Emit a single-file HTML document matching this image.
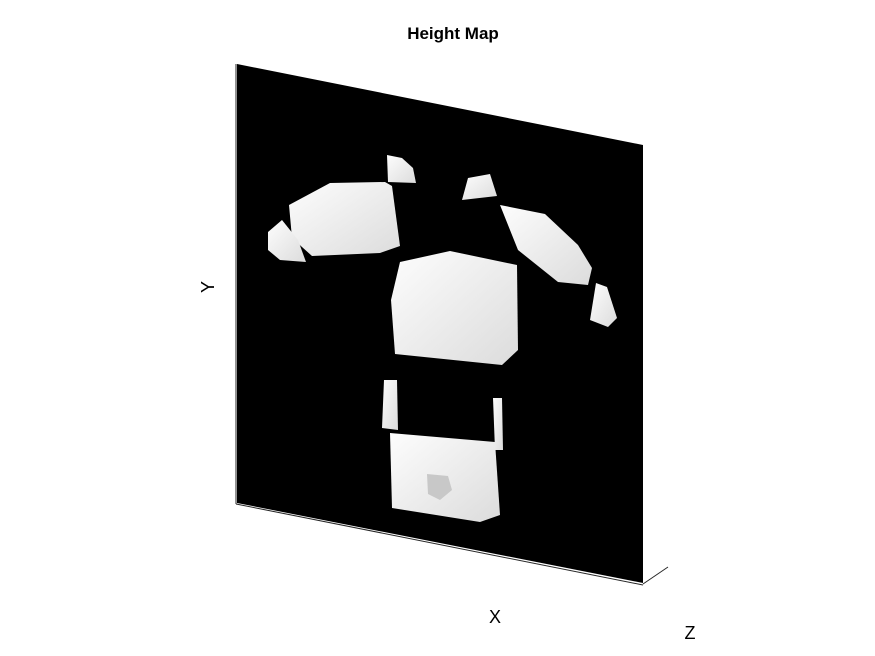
<!DOCTYPE html>
<html><head><meta charset="utf-8"><style>
body{margin:0;background:#fff;}
svg{display:block;font-family:"Liberation Sans",sans-serif;}
</style></head><body>
<svg width="875" height="656" viewBox="0 0 875 656">
<defs>
<linearGradient id="g" x1="0" y1="0" x2="1" y2="1">
<stop offset="0" stop-color="#fdfdfd"/><stop offset="1" stop-color="#dcdcdc"/></linearGradient>
</defs>
<text x="453" y="39" text-anchor="middle" font-size="17" font-weight="bold">Height Map</text>
<polygon points="237,64 643,145 643,583 237,503" fill="#000"/>
<g fill="url(#g)">
<polygon points="387,155 402,158 413,168 416,183 388,182"/>
<polygon points="468,178 490,174 497,196 462,200"/>
<polygon points="289,205 330,183 385,182 392,186 400,246 380,253 312,256 292,238"/>
<polygon points="500,205 545,214 578,245 592,268 588,285 558,282 518,250"/>
<polygon points="268,232 282,220 298,240 306,262 280,260 268,250"/>
<polygon points="596,283 607,287 617,318 608,327 590,320"/>
<polygon points="400,262 450,251 517,265 518,350 502,365 395,354 391,300"/>
<polygon points="384,380 397,380 398,430 382,428"/>
<polygon points="493,398 502,398 503,450 495,450"/>
<polygon points="390,433 495,442 500,515 480,522 392,508"/>
<polygon points="427,474 448,476 452,490 440,500 428,494" fill="#c8c8c8"/>
</g>
<g stroke="#262626" stroke-width="1" fill="none">
<line x1="236" y1="64" x2="236" y2="504"/>
<line x1="236" y1="504" x2="643" y2="585"/>
<line x1="643" y1="584" x2="668" y2="567"/>
</g>
<text x="209" y="287" text-anchor="middle" font-size="18" transform="rotate(-90 209 287)" dominant-baseline="middle">Y</text>
<text x="495" y="623" text-anchor="middle" font-size="18">X</text>
<text x="690" y="639" text-anchor="middle" font-size="18">Z</text>
</svg>
</body></html>
